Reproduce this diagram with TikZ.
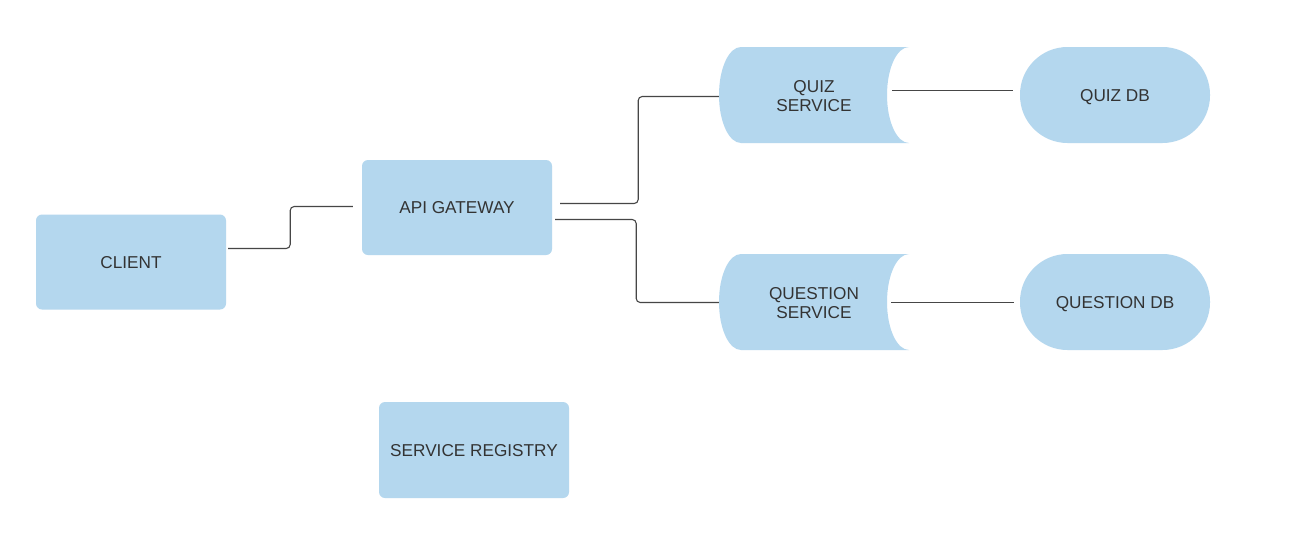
\documentclass[tikz,border=0pt]{standalone}
\usepackage{fontspec}
\setmainfont{Liberation Sans}
\usetikzlibrary{calc}
\definecolor{boxblue}{RGB}{180,215,238}
\definecolor{txtgray}{RGB}{51,51,51}
\definecolor{wiregray}{RGB}{70,70,70}
\begin{document}
\begin{tikzpicture}[x=1pt,y=-1pt,
  txtstyle/.style={text=txtgray, font=\fontsize{17.2}{19.8}\selectfont, align=center, inner sep=0pt},
  box/.style={txtstyle, fill=boxblue, rounded corners=6pt, minimum width=190pt, minimum height=95pt, text height=12.3pt, text depth=0pt},
  dbbox/.style={box, rounded corners=47.5pt, minimum height=96pt},
  lbl/.style={txtstyle, minimum width=190pt, minimum height=96pt},
  wire/.style={draw=wiregray, line width=1.1pt, rounded corners=4pt}]
\useasboundingbox (0,0) rectangle (1295,552);
\fill[white] (0,0) rectangle (1295,552);

% data storage shapes
\fill[boxblue] (741,47) -- (909,47)
  .. controls (896.8,47) and (887,68.5) .. (887,95)
  .. controls (887,121.5) and (896.8,143) .. (909,143)
  -- (741,143)
  .. controls (728.8,143) and (719,121.5) .. (719,95)
  .. controls (719,68.5) and (728.8,47) .. (741,47) -- cycle;
\fill[boxblue] (741,254) -- (909,254)
  .. controls (896.8,254) and (887,275.5) .. (887,302)
  .. controls (887,328.5) and (896.8,350) .. (909,350)
  -- (741,350)
  .. controls (728.8,350) and (719,328.5) .. (719,302)
  .. controls (719,275.5) and (728.8,254) .. (741,254) -- cycle;

\node[box] (client) at (131,262) {CLIENT};
\node[box] (api) at (457,207.5) {API GATEWAY};
\node[box, minimum height=96pt] (registry) at (474,450) {SERVICE REGISTRY};
\node[lbl] (quizsvc) at (814,96) {QUIZ\\SERVICE};
\node[lbl] (qsvc) at (814,303) {QUESTION\\SERVICE};
\node[dbbox] (quizdb) at (1115,95) {QUIZ DB};
\node[dbbox] (qdb) at (1115,302) {QUESTION DB};

\draw[wire] ($(client.east)+(2,-13.5)$) -- ++(62,0) |- ($(api.west)+(-9,-1)$);
\draw[wire] ($(api.east)+(8,-4)$) -- ++(78,0) |- ($(quizsvc.west)+(0,0.5)$);
\draw[wire] ($(api.east)+(3,12)$) -- ++(81,0) |- ($(qsvc.west)+(0,-0.5)$);
\draw[wire] ($(quizsvc.east)+(-17,-5.5)$) -- ($(quizdb.west)+(-7,-4.5)$);
\draw[wire] ($(qsvc.east)+(-18,-0.5)$) -- ($(qdb.west)+(-6,0.5)$);
\end{tikzpicture}
\end{document}
